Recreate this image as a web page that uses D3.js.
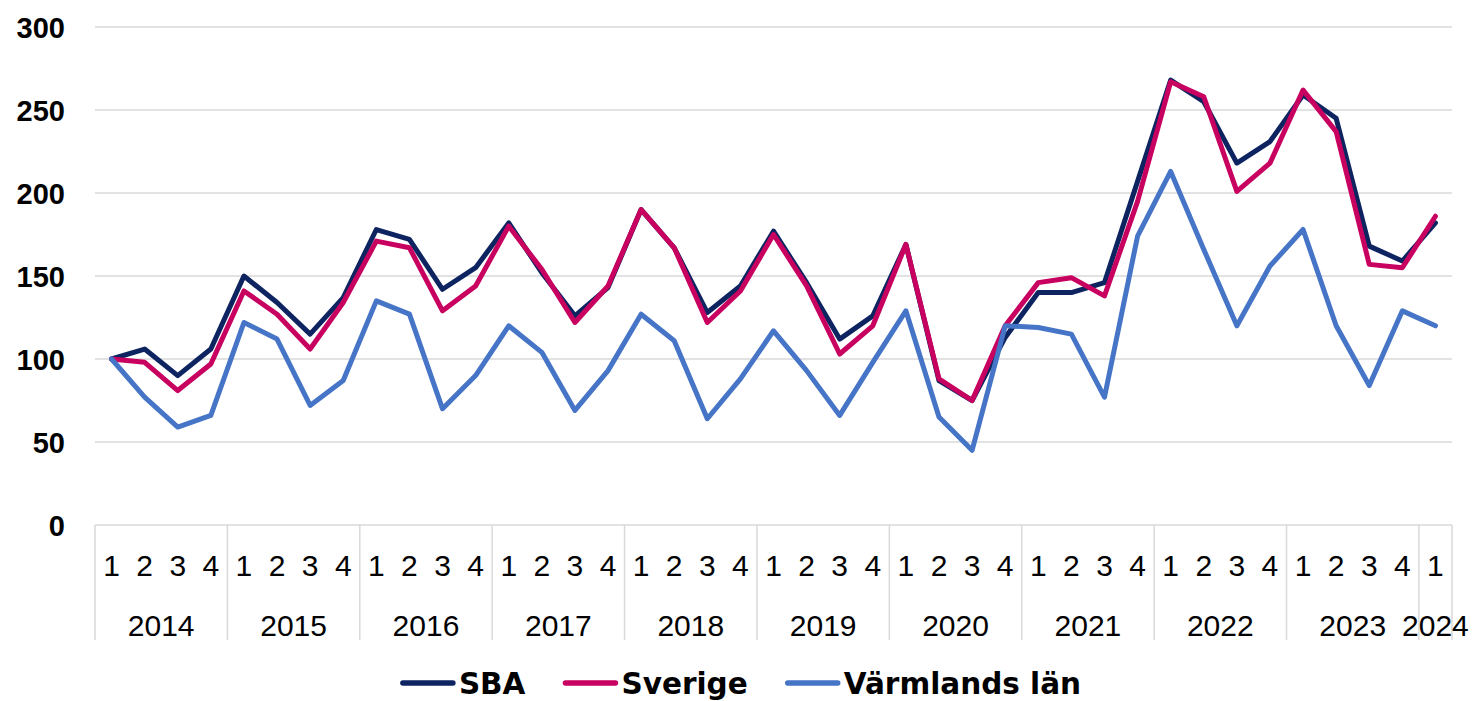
<!DOCTYPE html>
<html>
<head>
<meta charset="utf-8">
<script src="https://cdn.jsdelivr.net/npm/d3@7"></script>
<style>
  html, body { margin: 0; padding: 0; background: #fff; }
  svg { display: block; }
</style>
</head>
<body>
<svg id="chart" width="1474" height="701"></svg>
<script>
const years = ["2014","2015","2016","2017","2018","2019","2020","2021","2022","2023","2024"];
const quarters = ["1","2","3","4"];
const yTicks = [0, 50, 100, 150, 200, 250, 300];

const sbaValues = [100,106,90,106, 150,134,115,137, 178,172,142,155, 182,152,126,143,
  190,167,128,144, 177,146,112,126, 169,87,75,113, 140,140,146,207, 268,255,218,231,
  259,245,168,159, 182];
const sverigeValues = [100,98,81,97, 141,127,106,134, 171,167,129,144, 180,154,122,144,
  190,167,122,141, 175,144,103,120, 169,88,75,120, 146,149,138,195, 267,258,201,218,
  262,237,157,155, 186];
const varmlandValues = [100,77,59,66, 122,112,72,87, 135,127,70,90, 120,104,69,93,
  127,111,64,88, 117,93,66,98, 129,65,45,120, 119,115,77,174, 213,166,120,156,
  178,120,84,129, 120];

const seriesNames = ["SBA", "Sverige", "Värmlands län"];
const seriesColors = ["#0d2461", "#c8005f", "#4674c6"];
const seriesData = [sbaValues, sverigeValues, varmlandValues];

(function () {
const categories = [];
years.forEach(yr => {
  const qs = yr === "2024" ? ["1"] : quarters;
  qs.forEach(q => categories.push({ key: yr + "Q" + q, year: yr, q: q }));
});

const svg = d3.select("#chart");
const pLeft = 95, pRight = 1452, pTop = 27, pBottom = 525;

const x = d3.scaleBand().domain(categories.map(c => c.key)).range([pLeft, pRight]).padding(0);
const y = d3.scaleLinear().domain([0, 300]).range([pBottom, pTop]);

// gridlines
svg.append("g").selectAll("line").data(yTicks.filter(t => t > 0)).join("line")
  .attr("x1", pLeft).attr("x2", pRight)
  .attr("y1", d => y(d)).attr("y2", d => y(d))
  .attr("stroke", "#d9d9d9").attr("stroke-width", 1.5);

// y axis labels
const yAxis = d3.axisLeft(y).tickValues(yTicks).tickSize(0).tickPadding(0);
const yg = svg.append("g").attr("transform", "translate(65,0)").call(yAxis);
yg.select(".domain").remove();
yg.selectAll("text")
  .attr("font-family", "Liberation Sans, Arial, sans-serif")
  .attr("font-weight", "bold").attr("font-size", 29).attr("fill", "#000")
  .attr("dy", "0.36em");

// x axis baseline
svg.append("line").attr("x1", pLeft).attr("x2", pRight).attr("y1", pBottom).attr("y2", pBottom)
  .attr("stroke", "#d9d9d9").attr("stroke-width", 1.5);

// year separators
const yearGroups = d3.groups(categories, c => c.year);
const bounds = yearGroups.map(([yr, cs]) => x(cs[0].key));
bounds.push(pRight);
svg.append("g").selectAll("line").data(bounds).join("line")
  .attr("x1", d => d).attr("x2", d => d)
  .attr("y1", pBottom).attr("y2", 640)
  .attr("stroke", "#d9d9d9").attr("stroke-width", 1.5);

// quarter labels
const xAxis = d3.axisBottom(x).tickSize(0).tickPadding(0)
  .tickFormat(k => categories.find(c => c.key === k).q);
const xg = svg.append("g").attr("transform", "translate(0,565)").call(xAxis);
xg.select(".domain").remove();
xg.selectAll("text")
  .attr("font-family", "Liberation Sans, Arial, sans-serif")
  .attr("font-size", 30).attr("fill", "#000").attr("dy", "0.36em").attr("y", 0);

// year labels
svg.append("g").selectAll("text").data(yearGroups).join("text")
  .attr("x", ([yr, cs]) => (x(cs[0].key) + x(cs[cs.length - 1].key) + x.bandwidth()) / 2)
  .attr("y", 625).attr("dy", "0.36em")
  .attr("text-anchor", "middle")
  .attr("font-family", "Liberation Sans, Arial, sans-serif")
  .attr("font-size", 30).attr("fill", "#000")
  .text(([yr]) => yr);

// lines
const line = d3.line()
  .x((d, i) => x(categories[i].key) + x.bandwidth() / 2)
  .y(d => y(d));
seriesData.forEach((vals, si) => {
  svg.append("path").datum(vals)
    .attr("d", line)
    .attr("fill", "none")
    .attr("stroke", seriesColors[si])
    .attr("stroke-width", 5)
    .attr("stroke-linejoin", "round")
    .attr("stroke-linecap", "round");
});

// legend
const legend = svg.append("g");
const swatch = 50, gapText = 6, gapItem = 40, ly = 683;
const items = [];
seriesNames.forEach((name, i) => {
  const g = legend.append("g");
  g.append("line").attr("x1", 0).attr("x2", swatch).attr("y1", 0).attr("y2", 0)
    .attr("stroke", seriesColors[i]).attr("stroke-width", 5.5).attr("stroke-linecap", "round");
  const t = g.append("text").attr("x", swatch + gapText).attr("y", 0).attr("dy", "0.36em")
    .attr("font-family", "DejaVu Sans, sans-serif").attr("font-weight", "bold")
    .attr("font-size", 29.5).attr("fill", "#000").text(name);
  const w = swatch + gapText + t.node().getComputedTextLength();
  items.push({ g, w });
});
const total = d3.sum(items, d => d.w) + gapItem * (items.length - 1);
let startX = 742 - total / 2;
items.forEach(it => {
  it.g.attr("transform", `translate(${startX},${ly})`);
  startX += it.w + gapItem;
});
})();
</script>
</body>
</html>
